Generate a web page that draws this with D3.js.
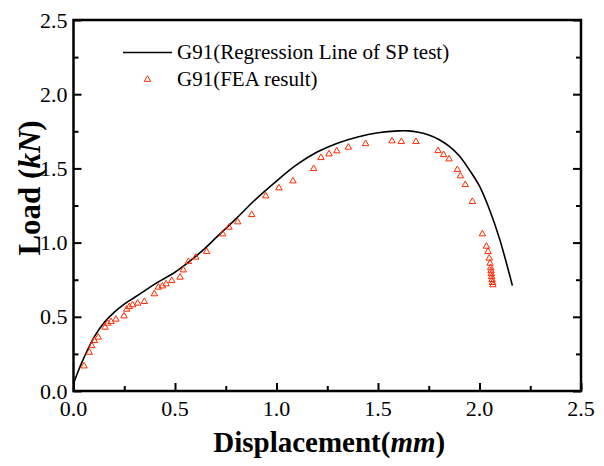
<!DOCTYPE html>
<html>
<head>
<meta charset="utf-8">
<script src="https://cdn.jsdelivr.net/npm/d3@7"></script>
<style>
  body { margin: 0; background: #fff; }
  text { font-family: "Liberation Serif", "Times New Roman", serif; }
</style>
</head>
<body>
<svg id="chart" width="604" height="466"></svg>
<script>
// regression line (SP test)
var lineX = [0, 0.025, 0.05, 0.1, 0.15, 0.2, 0.25, 0.3, 0.35, 0.4, 0.45, 0.5, 0.55, 0.6, 0.65, 0.7, 0.8, 0.9, 1.0, 1.1, 1.2, 1.3, 1.4, 1.5, 1.6, 1.65, 1.7, 1.75, 1.8, 1.85, 1.9, 1.95, 2.0, 2.05, 2.1, 2.162]
var lineY = [0.05, 0.14, 0.22, 0.36, 0.46, 0.53, 0.585, 0.63, 0.675, 0.72, 0.76, 0.80, 0.85, 0.905, 0.965, 1.03, 1.16, 1.295, 1.415, 1.525, 1.61, 1.67, 1.712, 1.74, 1.753, 1.753, 1.743, 1.725, 1.695, 1.65, 1.585, 1.49, 1.38, 1.22, 1.02, 0.71]

// FEA result
var feaX = [0.052, 0.078, 0.09, 0.103, 0.122, 0.155, 0.168, 0.185, 0.209, 0.249, 0.262, 0.275, 0.291, 0.316, 0.349, 0.398, 0.418, 0.438, 0.456, 0.484, 0.525, 0.541, 0.566, 0.602, 0.656, 0.735, 0.766, 0.809, 0.878, 0.947, 1.012, 1.081, 1.183, 1.219, 1.259, 1.297, 1.354, 1.439, 1.569, 1.615, 1.687, 1.796, 1.823, 1.85, 1.891, 1.906, 1.93, 1.965, 2.014, 2.034, 2.042, 2.048, 2.052, 2.055, 2.057, 2.058, 2.06, 2.062, 2.064, 2.066]
var feaY = [0.168, 0.26, 0.305, 0.339, 0.362, 0.429, 0.456, 0.467, 0.483, 0.505, 0.55, 0.568, 0.58, 0.591, 0.602, 0.654, 0.699, 0.707, 0.721, 0.743, 0.766, 0.815, 0.871, 0.901, 0.939, 1.058, 1.103, 1.139, 1.188, 1.314, 1.368, 1.415, 1.498, 1.572, 1.597, 1.617, 1.642, 1.666, 1.685, 1.68, 1.68, 1.619, 1.592, 1.563, 1.491, 1.449, 1.39, 1.276, 1.058, 0.975, 0.939, 0.894, 0.86, 0.83, 0.81, 0.79, 0.77, 0.75, 0.73, 0.715]

var xTicks = [0, 0.5, 1.0, 1.5, 2.0, 2.5]
var yTicks = [0, 0.5, 1.0, 1.5, 2.0, 2.5]
var minorTicks = [0.25, 0.75, 1.25, 1.75, 2.25]

var legendNames = ["G91(Regression Line of SP test)", "G91(FEA result)"]

var svg = d3.select("#chart")
var margin = { left: 73.5, right: 581, top: 20, bottom: 391 }

var xScale = d3.scaleLinear().domain([0, 2.5]).range([margin.left, margin.right])
var yScale = d3.scaleLinear().domain([0, 2.5]).range([margin.bottom, margin.top])

// 坐标轴 - ticks point inward, labels drawn separately
function drawTicks(axis, pos, tickVals, len) {
    var g = svg.append("g")
        .attr("transform", pos)
        .call(axis.tickValues(tickVals).tickSize(len).tickSizeOuter(0).tickFormat(""))
    g.select(".domain").remove()
    g.selectAll(".tick line").attr("stroke", "#000").attr("stroke-width", 2)
    return g
}

drawTicks(d3.axisTop(xScale), "translate(0," + margin.bottom + ")", xTicks, 8)
drawTicks(d3.axisTop(xScale), "translate(0," + margin.bottom + ")", minorTicks, 5)
drawTicks(d3.axisRight(yScale), "translate(" + margin.left + ",0)", yTicks, 8)
drawTicks(d3.axisRight(yScale), "translate(" + margin.left + ",0)", minorTicks, 5)
drawTicks(d3.axisLeft(yScale), "translate(" + margin.right + ",0)", yTicks, 8)
drawTicks(d3.axisLeft(yScale), "translate(" + margin.right + ",0)", minorTicks, 5)

// tick labels
svg.append("g").selectAll("text")
    .data(xTicks).enter().append("text")
    .attr("x", function (d) { return xScale(d) })
    .attr("y", margin.bottom + 25)
    .attr("text-anchor", "middle")
    .attr("font-size", 22)
    .text(function (d) { return d3.format(".1f")(d) })
svg.append("g").selectAll("text")
    .data(yTicks).enter().append("text")
    .attr("x", margin.left - 6)
    .attr("y", function (d) { return yScale(d) + 7.5 })
    .attr("text-anchor", "end")
    .attr("font-size", 22)
    .text(function (d) { return d3.format(".1f")(d) })

// frame
svg.append("rect")
    .attr("x", margin.left).attr("y", margin.top)
    .attr("width", margin.right - margin.left).attr("height", margin.bottom - margin.top)
    .attr("fill", "none").attr("stroke", "#000").attr("stroke-width", 2.5)

// 坐标轴标题
svg.append("text")
    .attr("x", (margin.left + margin.right) / 2 + 2)
    .attr("y", 452)
    .attr("text-anchor", "middle")
    .attr("font-size", 29).attr("font-weight", "bold")
    .html('Displacement(<tspan font-style="italic">mm</tspan>)')
svg.append("text")
    .attr("transform", "translate(40,188) rotate(-90)")
    .attr("text-anchor", "middle")
    .attr("font-size", 31).attr("font-weight", "bold")
    .html('Load (<tspan font-style="italic">kN</tspan>)')

// data
var pts = lineX.map(function (d, i) { return [d, lineY[i]] })
svg.append("path")
    .datum(pts)
    .attr("fill", "none")
    .attr("stroke", "#000")
    .attr("stroke-width", 1.6)
    .attr("d", d3.line()
        .x(function (d) { return xScale(d[0]) })
        .y(function (d) { return yScale(d[1]) })
        .curve(d3.curveCatmullRom.alpha(0.5)))

var tri = d3.symbol().type(d3.symbolTriangle).size(18)
svg.append("g").selectAll("path")
    .data(feaX.map(function (d, i) { return [d, feaY[i]] }))
    .enter().append("path")
    .attr("transform", function (d) { return "translate(" + xScale(d[0]) + "," + yScale(d[1]) + ")" })
    .attr("d", tri)
    .attr("fill", "none")
    .attr("stroke", "#ff2a00")
    .attr("stroke-width", 1)

// legend
svg.append("line")
    .attr("x1", 123).attr("x2", 172)
    .attr("y1", 52.5).attr("y2", 52.5)
    .attr("stroke", "#000").attr("stroke-width", 1.6)
svg.append("path")
    .attr("transform", "translate(147.5,79.5)")
    .attr("d", tri)
    .attr("fill", "none")
    .attr("stroke", "#ff2a00")
    .attr("stroke-width", 1)
svg.append("g").selectAll("text")
    .data(legendNames).enter().append("text")
    .attr("x", 177)
    .attr("y", function (d, i) { return 58.5 + i * 27 })
    .attr("font-size", 21)
    .text(function (d) { return d })
</script>
</body>
</html>
